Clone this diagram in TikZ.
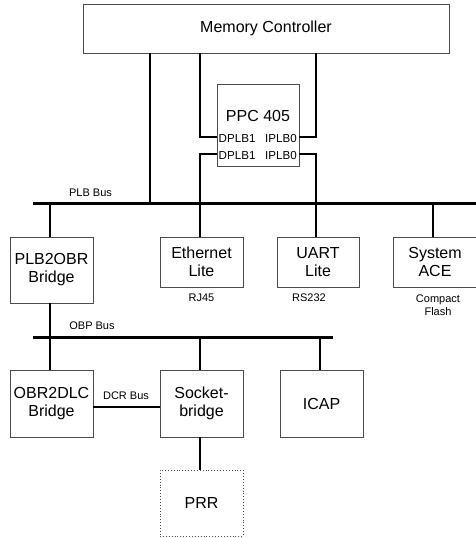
\documentclass[tikz,border=0pt]{standalone}
\usepackage{fontspec}
\setmainfont{Liberation Sans}
\begin{document}
\begin{tikzpicture}[x=1pt,y=-1pt,
  box/.style={draw=black!70, line width=0.9pt, inner sep=0pt, align=center,
    font=\fontsize{16}{18}\selectfont},
  conn/.style={line width=1.5pt, black},
  bus/.style={line width=3pt, black},
  lbl/.style={font=\fontsize{11}{12.5}\selectfont, inner sep=0pt, align=center},
  port/.style={font=\fontsize{11.6}{12}\selectfont, inner sep=0pt}]
\useasboundingbox (0,0) rectangle (475,538);

% boxes
\node[box, minimum width=366pt, minimum height=49pt] (mc) at (266,28.5) {Memory Controller};
\node[box, minimum width=82pt, minimum height=82pt] (ppc) at (258,125) {};
\node[font=\fontsize{16}{18}\selectfont, inner sep=0pt] (ppct) at (258,116) {PPC 405};
\node[port, anchor=west] (d1) at (218.5,139) {DPLB1};
\node[port, anchor=east] (i1) at (297,139) {IPLB0};
\node[port, anchor=west] (d2) at (218.5,155.5) {DPLB1};
\node[port, anchor=east] (i2) at (297,155.5) {IPLB0};

\node[box, minimum width=83pt, minimum height=66pt] (plbobr) at (51.5,270) {PLB2OBR\\Bridge};
\node[box, minimum width=83pt, minimum height=50pt] (eth) at (201.5,262) {Ethernet\\Lite};
\node[box, minimum width=82pt, minimum height=50pt] (uart) at (318,262) {UART\\Lite};
\node[box, minimum width=84pt, minimum height=50pt] (ace) at (435,262) {System\\ACE};

\node[box, minimum width=83pt, minimum height=67pt] (obrdlc) at (51.5,403.5) {OBR2DLC\\Bridge};
\node[box, minimum width=83pt, minimum height=67pt] (sock) at (201.5,403.5) {Socket-\\bridge};
\node[box, minimum width=83pt, minimum height=67pt] (icap) at (321.5,403.5) {ICAP};
\node[box, dotted, minimum width=83pt, minimum height=66pt] (prr) at (201.5,503) {PRR};

% labels
\node[lbl] (plbl) at (90.5,193) {PLB Bus};
\node[lbl] (obpl) at (92,326) {OBP Bus};
\node[lbl] (dcrl) at (126,396) {DCR Bus};
\node[lbl] (rj) at (201.5,297.5) {RJ45};
\node[lbl] (rs) at (309,297.5) {RS232};
\node[lbl] (cf) at (438,305) {Compact\\Flash};

% PLB bus
\coordinate (plbL) at (33,203);
\coordinate (plbR) at (478,203);
\draw[bus] (plbL) -- (plbR);
\coordinate (p1) at (150,203);
\coordinate (p2) at (200,203);
\coordinate (p3) at (316,203);
\coordinate (p0) at (50,203);
\coordinate (p4) at (433,203);

% memory controller / PPC connections
\coordinate (a1) at (200,137);
\coordinate (a2) at (316,137);
\coordinate (a3) at (200,154);
\coordinate (a4) at (316,154);
\draw[conn] (mc.south -| p1) -- (p1);
\draw[conn] (mc.south -| a1) -- (a1) -- (a1 -| ppc.west);
\draw[conn] (mc.south -| a2) -- (a2) -- (a2 -| ppc.east);
\draw[conn] (a3 -| ppc.west) -- (a3) -- (p2);
\draw[conn] (a4 -| ppc.east) -- (a4) -- (p3);

% drops from PLB bus
\draw[conn] (p0) -- (p0 |- plbobr.north);
\draw[conn] (p2) -- (p2 |- eth.north);
\draw[conn] (p3) -- (p3 |- uart.north);
\draw[conn] (p4) -- (p4 |- ace.north);

% OBP bus
\coordinate (obL) at (33,337);
\coordinate (obR) at (333,337);
\coordinate (o0) at (50,337);
\coordinate (o1) at (200,337);
\coordinate (o2) at (320,337);
\draw[conn] (plbobr.south -| o0) -- (o0);
\draw[bus] (obL) -- (obR);
\draw[conn] (o0) -- (o0 |- obrdlc.north);
\draw[conn] (o1) -- (o1 |- sock.north);
\draw[conn] (o2) -- (o2 |- icap.north);

% DCR bus and PRR
\coordinate (dc) at (93,407);
\draw[conn] (obrdlc.east |- dc) -- (sock.west |- dc);
\draw[conn] (sock.south -| o1) -- (prr.north -| o1);
\end{tikzpicture}
\end{document}
